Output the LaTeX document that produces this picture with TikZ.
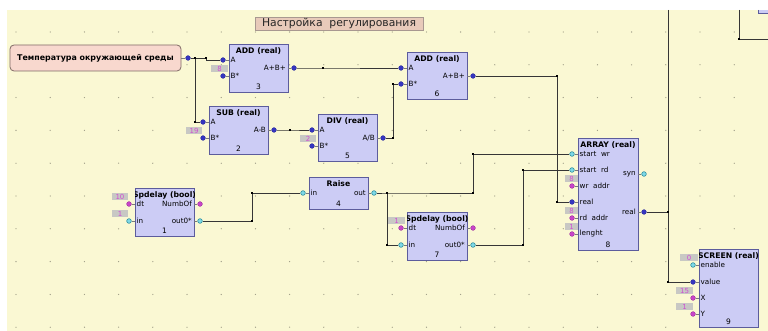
\documentclass[tikz,border=0pt]{standalone}
\usepackage{fontspec}
\setmainfont{DejaVu Sans}
\definecolor{bgy}{HTML}{FAF8D3}
\definecolor{blkf}{HTML}{CCCCF5}
\definecolor{blkb}{HTML}{5C5C9C}
\definecolor{pbf}{HTML}{3535C0}
\definecolor{pcf}{HTML}{7ED8E6}
\definecolor{pcb}{HTML}{2E8FA0}
\definecolor{pmf}{HTML}{C844C8}
\definecolor{pmb}{HTML}{962A96}
\definecolor{cstf}{HTML}{C8C8C4}
\definecolor{cstt}{HTML}{D050D0}
\definecolor{wirec}{HTML}{363636}
\definecolor{stubc}{HTML}{7A7A7A}
\definecolor{srcf}{HTML}{F8D8CE}
\definecolor{srcb}{HTML}{806A66}
\definecolor{ttlf}{HTML}{E8CABA}
\definecolor{ttlb}{HTML}{A89890}
\definecolor{dotc}{HTML}{9C9A84}
\tikzset{
  blockbox/.style={draw=blkb, fill=blkf, line width=0.8pt, inner sep=0pt, rectangle},
  btitle/.style={font=\bfseries\fontsize{7.7}{9}\selectfont, inner sep=0pt, text=black},
  bnum/.style={font=\fontsize{7.5}{8}\selectfont, inner sep=0pt, text=black},
  plabel/.style={font=\fontsize{7.2}{8}\selectfont, inner sep=0pt, text=black},
  pb/.style={circle, fill=pbf, draw=pbf!80!black, line width=0.3pt, inner sep=0pt, minimum size=4.8pt},
  pc/.style={circle, fill=pcf, draw=pcb, line width=0.6pt, inner sep=0pt, minimum size=4.6pt},
  pm/.style={circle, fill=pmf, draw=pmb, line width=0.3pt, inner sep=0pt, minimum size=4.8pt},
  stub/.style={draw=stubc, line width=0.8pt},
  wire/.style={draw=wirec, line width=0.9pt},
  constbox/.style={fill=cstf, inner sep=0pt, minimum height=7pt, text=cstt, font=\fontsize{7}{7}\selectfont},
  jsq/.style={fill=black, minimum size=2.6pt, inner sep=0pt, rectangle},
}
% name, x1, y1, x2, y2, title, number
\newcommand\fbblock[7]{%
  \node[blockbox, minimum width={#4-#2}, minimum height={#5-#3}, anchor=north west] (#1) at (#2,#3) {};
  \begin{scope}
    \clip (#2,#3) rectangle (#4,#5);
    \node[btitle] (#1t) at ({(#2+#4)/2},{#3+7}) {#6};
  \end{scope}
  \node[bnum] (#1n) at ({(#2+#4)/2},{#5-5.5}) {#7};
}
% name, style, x-edge, y, label
\newcommand\lport[5]{%
  \node[#2] (#1) at ({#3-6},#4) {};
  \draw[stub] (#1) -- (#3,#4);
  \node[plabel, anchor=west] (#1l) at ({#3+1.5},#4) {#5};
}
\newcommand\rport[5]{%
  \node[#2] (#1) at ({#3+6},#4) {};
  \draw[stub] (#1) -- (#3,#4);
  \node[plabel, anchor=east] (#1l) at ({#3-2},#4) {#5};
}
% name, x1, x2, ycenter, text
\newcommand\cbox[5]{%
  \node[constbox, minimum width={#3-#2}] (#1) at ({(#2+#3)/2},#4) {#5};
}
\begin{document}
\begin{tikzpicture}[x=1pt, y=-1pt]
\useasboundingbox (0,0) rectangle (768,331);
\fill[white] (0,0) rectangle (768,331);
\fill[bgy] (7,10) rectangle (768,331);
% grid dots
\foreach \i in {0,...,21} {
  \foreach \j in {0,...,9} {
    \fill[dotc] ({16+34.2*\i},{32+32.8*\j}) circle (0.65);
  }
}
% title
\node[draw=ttlb, fill=ttlf, line width=0.6pt, minimum width=168pt, minimum height=13pt, inner sep=0pt,
      font=\fontsize{10.8}{11}\selectfont, text=black!85] (ttl) at (339,23.5) {Настройка\ \ регулирования};
% source
\node[draw=srcb, fill=srcf, line width=0.8pt, rounded corners=4pt, minimum width=171pt, minimum height=26pt,
      inner sep=0pt, font=\bfseries\fontsize{7.9}{9}\selectfont] (src) at (95.5,58) {Температура окружающей среды};
\node[pb] (s0) at (188,58) {};
\draw[stub] (src.east) -- (s0);

% top-right partial block
\fill[blkf] (758,10) rectangle (769,13.5);
\draw[blkb, line width=0.8pt] (758,10) -- (758,13.5) -- (769,13.5);

% blocks
\fbblock{b3}{229}{44}{288}{92}{ADD (real)}{3}
\lport{b3A}{pb}{229}{60}{A}
\lport{b3B}{pb}{229}{76}{B*}
\rport{b3o}{pb}{288}{68}{A+B+}
\cbox{c3}{211}{228}{68.5}{8}

\fbblock{b2}{209}{106}{268}{154}{SUB (real)}{2}
\lport{b2A}{pb}{209}{122}{A}
\lport{b2B}{pb}{209}{138}{B*}
\rport{b2o}{pb}{268}{130}{A-B}
\cbox{c2}{186}{202}{130.5}{19}

\fbblock{b5}{318}{114}{377}{161}{DIV (real)}{5}
\lport{b5A}{pb}{318}{130}{A}
\lport{b5B}{pb}{318}{146}{B*}
\rport{b5o}{pb}{377}{138}{A/B}
\cbox{c5}{300}{316}{138.5}{2}

\fbblock{b6}{407}{52}{467}{99}{ADD (real)}{6}
\lport{b6A}{pb}{407}{68}{A}
\lport{b6B}{pb}{407}{84}{B*}
\rport{b6o}{pb}{467}{76}{A+B+}

\fbblock{b1}{135}{188}{194}{236}{Spdelay (bool)}{1}
\lport{b1dt}{pm}{135}{204}{dt}
\lport{b1in}{pc}{135}{221}{in}
\rport{b1nb}{pm}{194}{204}{NumbOf}
\rport{b1o}{pc}{194}{221}{out0*}
\cbox{c1a}{112}{128}{196.5}{10}
\cbox{c1b}{112}{128}{213.5}{1}

\fbblock{b4}{309}{177}{368}{209}{Raise}{4}
\lport{b4in}{pc}{309}{193}{in}
\rport{b4o}{pc}{368}{193}{out}

\fbblock{b7}{407}{212}{467}{260}{Spdelay (bool)}{7}
\lport{b7dt}{pm}{407}{228}{dt}
\lport{b7in}{pc}{407}{245}{in}
\rport{b7nb}{pm}{467}{228}{NumbOf}
\rport{b7o}{pc}{467}{245}{out0*}
\cbox{c7}{388}{405}{220.5}{1}

\fbblock{b8}{578}{138}{638}{250}{ARRAY (real)}{8}
\lport{b8swr}{pc}{578}{154}{start\ \ wr}
\lport{b8srd}{pc}{578}{170}{start\ \ rd}
\lport{b8wad}{pm}{578}{186}{wr\ \ addr}
\lport{b8re}{pb}{578}{202}{real}
\lport{b8rad}{pm}{578}{218}{rd\ \ addr}
\lport{b8len}{pm}{578}{234}{lenght}
\rport{b8syn}{pc}{638}{174}{syn}
\rport{b8ro}{pb}{638}{212}{real}
\cbox{c8a}{565}{578}{179}{8}
\cbox{c8b}{565}{578}{210.5}{8}
\cbox{c8c}{565}{578}{226.5}{1}

\fbblock{b9}{699}{249}{758}{327}{SCREEN (real)}{9}
\lport{b9en}{pc}{699}{265}{enable}
\lport{b9val}{pb}{699}{282}{value}
\lport{b9X}{pm}{699}{298}{X}
\lport{b9Y}{pm}{699}{314}{Y}
\cbox{c9a}{680}{698}{257.5}{0}
\cbox{c9b}{676}{693}{290.5}{15}
\cbox{c9c}{676}{693}{306.5}{1}

% junction coordinates
\coordinate (j1) at (195,58);
\coordinate (j2) at (206,58);
\coordinate (j3) at (195,122);
\coordinate (j4) at (290,130);
\coordinate (j5) at (323,68);
\coordinate (j6) at (393,138);
\coordinate (j7) at (393,84);
\coordinate (j8) at (557,76);
\coordinate (j9) at (557,202);
\coordinate (j10) at (252,221);
\coordinate (j11) at (252,193);
\coordinate (j12) at (387,193);
\coordinate (j13) at (473,193);
\coordinate (j14) at (473,154);
\coordinate (j15) at (387,245);
\coordinate (j16) at (523,245);
\coordinate (j17) at (523,170);
\coordinate (j18) at (668,212);
\coordinate (jt) at (668,10);
\coordinate (j19) at (668,282);
\coordinate (jt2) at (739,10);
\coordinate (j20) at (739,39);
\coordinate (jr) at (768,39);

% wires
\draw[wire] (s0) -- (j2) |- (b3A);
\draw[wire] (j1) -- (j3) -- (b2A);
\draw[wire] (b2o) -- (j4) -- (b5A);
\draw[wire] (b3o) -- (j5) -- (b6A);
\draw[wire] (b5o) -- (j6) -- (j7) -- (b6B);
\draw[wire] (b6o) -- (j8) -- (j9) -- (b8re);
\draw[wire] (b1o) -- (j10) -- (j11) -- (b4in);
\draw[wire] (b4o) -- (j12) -- (j13) -- (j14) -- (b8swr);
\draw[wire] (j12) -- (j15) -- (b7in);
\draw[wire] (b7o) -- (j16) -- (j17) -- (b8srd);
\draw[wire] (b8ro) -- (j18);
\draw[wire] (jt) -- (j19) -- (b9val);
\draw[wire] (jt2) -- (j20) -- (jr);

% junction squares
\foreach \c in {j1,j2,j3,j4,j5,j6,j7,j8,j9,j10,j11,j12,j13,j14,j15,j16,j17,j18,j19,j20} {
  \node[jsq] at (\c) {};
}
\end{tikzpicture}
\end{document}
